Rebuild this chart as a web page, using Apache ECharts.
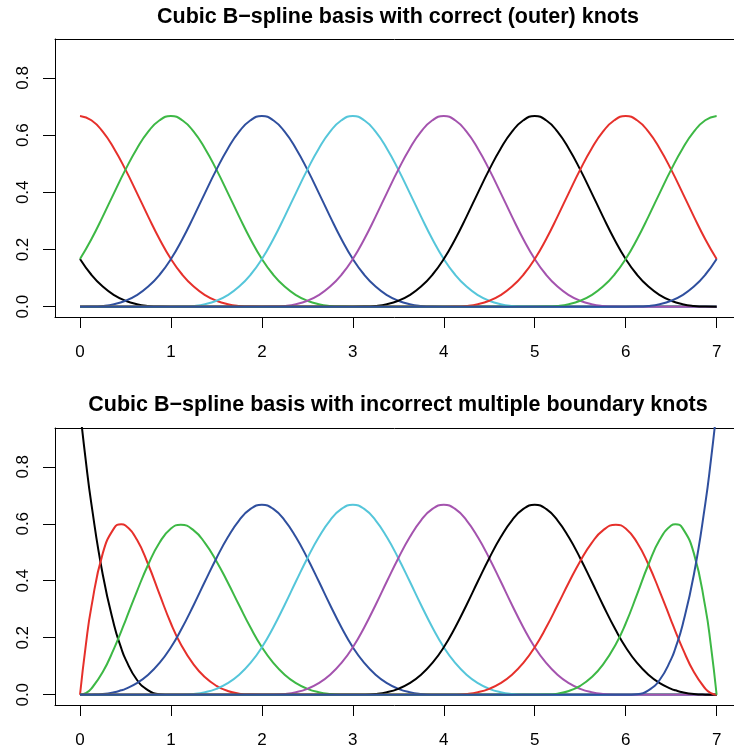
<!DOCTYPE html>
<html>
<head>
<meta charset="utf-8">
<script src="https://cdn.jsdelivr.net/npm/echarts@6/dist/echarts.min.js"></script>
<style>
html,body{margin:0;padding:0;background:#fff;}
#chart{width:734px;height:749px;}
</style>
</head>
<body>
<div id="chart"></div>
<script>
// ---------- data ----------
const titleTop = "Cubic B\u2212spline basis with correct (outer) knots";
const titleBottom = "Cubic B\u2212spline basis with incorrect multiple boundary knots";

const xTicks = [0, 1, 2, 3, 4, 5, 6, 7];
const yTicks = [0, 0.2, 0.4, 0.6, 0.8];

const palette = ["#000000", "#E6302B", "#3DB845", "#2F4F9E", "#55C6DA", "#A453AE"];

// top panel: x sample positions (step 0.125)
const xsTop = [0,0.125,0.25,0.375,0.5,0.625,0.75,0.875,
  1,1.125,1.25,1.375,1.5,1.625,1.75,1.875,
  2,2.125,2.25,2.375,2.5,2.625,2.75,2.875,
  3,3.125,3.25,3.375,3.5,3.625,3.75,3.875,
  4,4.125,4.25,4.375,4.5,4.625,4.75,4.875,
  5,5.125,5.25,5.375,5.5,5.625,5.75,5.875,
  6,6.125,6.25,6.375,6.5,6.625,6.75,6.875,
  7];

const topB1 = [0.1667,0.1117,0.0703,0.0407,0.0208,0.0088,0.0026,0.0003,
  0,
  0,0,0,0,0,0,0,0, 0,0,0,0,0,0,0,0, 0,0,0,0,0,0,0,0,
  0,0,0,0,0,0,0,0, 0,0,0,0,0,0,0,0, 0,0,0,0,0,0,0,0];
const topB2 = [0.6667,0.6520,0.6120,0.5524,0.4792,0.3981,0.3151,0.2360,
  0.1667,0.1117,0.0703,0.0407,0.0208,0.0088,0.0026,0.0003,
  0,
  0,0,0,0,0,0,0,0, 0,0,0,0,0,0,0,0, 0,0,0,0,0,0,0,0,
  0,0,0,0,0,0,0,0, 0,0,0,0,0,0,0,0];
const topB3 = [0.1667,0.2360,0.3151,0.3981,0.4792,0.5524,0.6120,0.6520,
  0.6667,0.6520,0.6120,0.5524,0.4792,0.3981,0.3151,0.2360,
  0.1667,0.1117,0.0703,0.0407,0.0208,0.0088,0.0026,0.0003,
  0,
  0,0,0,0,0,0,0,0, 0,0,0,0,0,0,0,0, 0,0,0,0,0,0,0,0, 0,0,0,0,0,0,0,0];
const topB4 = [0,0.0003,0.0026,0.0088,0.0208,0.0407,0.0703,0.1117,
  0.1667,0.2360,0.3151,0.3981,0.4792,0.5524,0.6120,0.6520,
  0.6667,0.6520,0.6120,0.5524,0.4792,0.3981,0.3151,0.2360,
  0.1667,0.1117,0.0703,0.0407,0.0208,0.0088,0.0026,0.0003,
  0,
  0,0,0,0,0,0,0,0, 0,0,0,0,0,0,0,0, 0,0,0,0,0,0,0,0];
const topB5 = [0,0,0,0,0,0,0,0,
  0,0.0003,0.0026,0.0088,0.0208,0.0407,0.0703,0.1117,
  0.1667,0.2360,0.3151,0.3981,0.4792,0.5524,0.6120,0.6520,
  0.6667,0.6520,0.6120,0.5524,0.4792,0.3981,0.3151,0.2360,
  0.1667,0.1117,0.0703,0.0407,0.0208,0.0088,0.0026,0.0003,
  0,
  0,0,0,0,0,0,0,0, 0,0,0,0,0,0,0,0];
const topB6 = [0,0,0,0,0,0,0,0, 0,0,0,0,0,0,0,0,
  0,0.0003,0.0026,0.0088,0.0208,0.0407,0.0703,0.1117,
  0.1667,0.2360,0.3151,0.3981,0.4792,0.5524,0.6120,0.6520,
  0.6667,0.6520,0.6120,0.5524,0.4792,0.3981,0.3151,0.2360,
  0.1667,0.1117,0.0703,0.0407,0.0208,0.0088,0.0026,0.0003,
  0,
  0,0,0,0,0,0,0,0];
const topB7 = [0,0,0,0,0,0,0,0, 0,0,0,0,0,0,0,0, 0,0,0,0,0,0,0,0,
  0,0.0003,0.0026,0.0088,0.0208,0.0407,0.0703,0.1117,
  0.1667,0.2360,0.3151,0.3981,0.4792,0.5524,0.6120,0.6520,
  0.6667,0.6520,0.6120,0.5524,0.4792,0.3981,0.3151,0.2360,
  0.1667,0.1117,0.0703,0.0407,0.0208,0.0088,0.0026,0.0003,
  0];
const topB8 = [0,0,0,0,0,0,0,0, 0,0,0,0,0,0,0,0, 0,0,0,0,0,0,0,0, 0,0,0,0,0,0,0,0,
  0,0.0003,0.0026,0.0088,0.0208,0.0407,0.0703,0.1117,
  0.1667,0.2360,0.3151,0.3981,0.4792,0.5524,0.6120,0.6520,
  0.6667,0.6520,0.6120,0.5524,0.4792,0.3981,0.3151,0.2360,
  0.1667];
const topB9 = [0,0,0,0,0,0,0,0, 0,0,0,0,0,0,0,0, 0,0,0,0,0,0,0,0, 0,0,0,0,0,0,0,0, 0,0,0,0,0,0,0,0,
  0,0.0003,0.0026,0.0088,0.0208,0.0407,0.0703,0.1117,
  0.1667,0.2360,0.3151,0.3981,0.4792,0.5524,0.6120,0.6520,
  0.6667];
const topB10 = [0,0,0,0,0,0,0,0, 0,0,0,0,0,0,0,0, 0,0,0,0,0,0,0,0, 0,0,0,0,0,0,0,0, 0,0,0,0,0,0,0,0, 0,0,0,0,0,0,0,0,
  0,0.0003,0.0026,0.0088,0.0208,0.0407,0.0703,0.1117,
  0.1667];

// bottom panel: x sample positions (denser near the boundaries and the peaks)
const xsBot = [0,0.0625,0.125,0.25,0.375,0.4531,0.5,0.625,0.75,0.875,1,
  1.1082,1.25,1.375,1.5,1.625,1.75,1.875,
  2,2.125,2.25,2.375,2.5,2.625,2.75,2.875,
  3,3.125,3.25,3.375,3.5,3.625,3.75,3.875,
  4,4.125,4.25,4.375,4.5,4.625,4.75,4.875,
  5,5.125,5.25,5.375,5.5,5.625,5.75,5.8918,
  6,6.125,6.25,6.375,6.5,6.5469,6.625,6.75,6.875,6.9375,7];

const botB1 = [1,0.8240,0.6699,0.4219,0.2441,0.1636,0.1250,0.0527,0.0156,0.0020,0,
  0,0,0,0,0,0,0,
  0,0,0,0,0,0,0,0,
  0,0,0,0,0,0,0,0,
  0,0,0,0,0,0,0,0,
  0,0,0,0,0,0,0,0,
  0,0,0,0,0,0,0,0,0,0,0];
const botB2 = [0,0.1703,0.3081,0.4961,0.5847,0.5982,0.5938,0.5444,0.4570,0.3520,0.2500,
  0.1773,0.1055,0.0610,0.0313,0.0132,0.0039,0.0005,
  0,0,0,0,0,0,0,0,
  0,0,0,0,0,0,0,0,
  0,0,0,0,0,0,0,0,
  0,0,0,0,0,0,0,0,
  0,0,0,0,0,0,0,0,0,0,0];
const botB3 = [0,0.0056,0.0216,0.0794,0.1626,0.2227,0.2604,0.3621,0.4570,0.5343,0.5833,
  0.5965,0.5768,0.5321,0.4688,0.3937,0.3138,0.2358,
  0.1667,0.1117,0.0703,0.0407,0.0208,0.0088,0.0026,0.0003,
  0,0,0,0,0,0,0,0,
  0,0,0,0,0,0,0,0,
  0,0,0,0,0,0,0,0,
  0,0,0,0,0,0,0,0,0,0,0];
const botB4 = [0,0,0.0003,0.0026,0.0088,0.0155,0.0208,0.0407,0.0703,0.1117,0.1667,
  0.2260,0.3151,0.3981,0.4792,0.5524,0.6120,0.6520,
  0.6667,0.6520,0.6120,0.5524,0.4792,0.3981,0.3151,0.2360,
  0.1667,0.1117,0.0703,0.0407,0.0208,0.0088,0.0026,0.0003,
  0,0,0,0,0,0,0,0,
  0,0,0,0,0,0,0,0,
  0,0,0,0,0,0,0,0,0,0,0];
const botB5 = [0,0,0,0,0,0,0,0,0,0,0,
  0.0002,0.0026,0.0088,0.0208,0.0407,0.0703,0.1117,
  0.1667,0.2360,0.3151,0.3981,0.4792,0.5524,0.6120,0.6520,
  0.6667,0.6520,0.6120,0.5524,0.4792,0.3981,0.3151,0.2360,
  0.1667,0.1117,0.0703,0.0407,0.0208,0.0088,0.0026,0.0003,
  0,0,0,0,0,0,0,0,
  0,0,0,0,0,0,0,0,0,0,0];
const botB6 = [0,0,0,0,0,0,0,0,0,0,0,
  0,0,0,0,0,0,0,
  0,0.0003,0.0026,0.0088,0.0208,0.0407,0.0703,0.1117,
  0.1667,0.2360,0.3151,0.3981,0.4792,0.5524,0.6120,0.6520,
  0.6667,0.6520,0.6120,0.5524,0.4792,0.3981,0.3151,0.2360,
  0.1667,0.1117,0.0703,0.0407,0.0208,0.0088,0.0026,0.0002,
  0,0,0,0,0,0,0,0,0,0,0];
const botB7 = [0,0,0,0,0,0,0,0,0,0,0,
  0,0,0,0,0,0,0,
  0,0,0,0,0,0,0,0,
  0,0.0003,0.0026,0.0088,0.0208,0.0407,0.0703,0.1117,
  0.1667,0.2360,0.3151,0.3981,0.4792,0.5524,0.6120,0.6520,
  0.6667,0.6520,0.6120,0.5524,0.4792,0.3981,0.3151,0.2260,
  0.1667,0.1117,0.0703,0.0407,0.0208,0.0155,0.0088,0.0026,0.0003,0,0];
const botB8 = [0,0,0,0,0,0,0,0,0,0,0,
  0,0,0,0,0,0,0,
  0,0,0,0,0,0,0,0,
  0,0,0,0,0,0,0,0,
  0,0.0003,0.0026,0.0088,0.0208,0.0407,0.0703,0.1117,
  0.1667,0.2358,0.3138,0.3937,0.4688,0.5321,0.5768,0.5965,
  0.5833,0.5343,0.4570,0.3621,0.2604,0.2227,0.1626,0.0794,0.0216,0.0056,0];
const botB9 = [0,0,0,0,0,0,0,0,0,0,0,
  0,0,0,0,0,0,0,
  0,0,0,0,0,0,0,0,
  0,0,0,0,0,0,0,0,
  0,0,0,0,0,0,0,0,
  0,0.0005,0.0039,0.0132,0.0313,0.0610,0.1055,0.1773,
  0.2500,0.3520,0.4570,0.5444,0.5938,0.5982,0.5847,0.4961,0.3081,0.1703,0];
const botB10 = [0,0,0,0,0,0,0,0,0,0,0,
  0,0,0,0,0,0,0,
  0,0,0,0,0,0,0,0,
  0,0,0,0,0,0,0,0,
  0,0,0,0,0,0,0,0,
  0,0,0,0,0,0,0,0,
  0,0.0020,0.0156,0.0527,0.1250,0.1636,0.2441,0.4219,0.6699,0.8240,1];

const topSeries = [topB1, topB2, topB3, topB4, topB5, topB6, topB7, topB8, topB9, topB10];
const botSeries = [botB1, botB2, botB3, botB4, botB5, botB6, botB7, botB8, botB9, botB10];

topSeries.forEach((s, i) => { if (s.length !== xsTop.length) throw new Error("top series " + i + " length " + s.length); });
botSeries.forEach((s, i) => { if (s.length !== xsBot.length) throw new Error("bottom series " + i + " length " + s.length); });

// ---------- chart ----------
const FONT = "'Liberation Sans', Arial, Helvetica, sans-serif";
const X_MIN = -0.275, X_MAX = 7.191;
const Y_MIN = -0.036, Y_MAX = 0.936;
const chart = echarts.init(document.getElementById('chart'), null, {renderer: 'canvas'});

function xAxisCfg(gi) {
  return {
    type: 'value', gridIndex: gi, min: X_MIN, max: X_MAX, position: 'bottom',
    axisLine: {show: true, onZero: false, lineStyle: {color: '#000', width: 1}},
    axisTick: {show: true, length: 11, lineStyle: {color: '#000', width: 1}, customValues: xTicks},
    axisLabel: {show: true, customValues: xTicks, fontSize: 17, fontFamily: FONT, color: '#000', margin: 27,
      formatter: v => String(v)},
    splitLine: {show: false}
  };
}
function xTopCfg(gi) {
  return {
    type: 'value', gridIndex: gi, min: X_MIN, max: X_MAX, position: 'top',
    axisLine: {show: true, onZero: false, lineStyle: {color: '#000', width: 1}},
    axisTick: {show: false}, axisLabel: {show: false}, splitLine: {show: false}
  };
}
function yAxisCfg(gi) {
  return {
    type: 'value', gridIndex: gi, min: Y_MIN, max: Y_MAX,
    axisLine: {show: true, onZero: false, lineStyle: {color: '#000', width: 1}},
    axisTick: {show: true, length: 12, lineStyle: {color: '#000', width: 1}, customValues: yTicks},
    axisLabel: {show: true, customValues: yTicks, rotate: 90, fontSize: 17, fontFamily: FONT, color: '#000', margin: 23,
      formatter: v => v.toFixed(1)},
    splitLine: {show: false}
  };
}

const series = [];
topSeries.forEach((vals, i) => {
  series.push({
    type: 'line', xAxisIndex: 0, yAxisIndex: 0, smooth: true, showSymbol: false, silent: true,
    lineStyle: {color: palette[i % 6], width: 2}, itemStyle: {color: palette[i % 6]},
    data: xsTop.map((x, k) => [x, vals[k]])
  });
});
botSeries.forEach((vals, i) => {
  series.push({
    type: 'line', xAxisIndex: 1, yAxisIndex: 1, smooth: true, showSymbol: false, silent: true,
    lineStyle: {color: palette[i % 6], width: 2}, itemStyle: {color: palette[i % 6]},
    data: xsBot.map((x, k) => [x, vals[k]])
  });
});

chart.setOption({
  animation: false,
  backgroundColor: '#fff',
  title: [
    {text: titleTop, left: 398, top: 6, textAlign: 'center', padding: 0,
      textStyle: {fontFamily: FONT, fontWeight: 'bold', fontSize: 21.5, color: '#000'}},
    {text: titleBottom, left: 398, top: 394, textAlign: 'center', padding: 0,
      textStyle: {fontFamily: FONT, fontWeight: 'bold', fontSize: 21.5, color: '#000'}}
  ],
  grid: [
    {left: 55, top: 39, width: 679, height: 278, show: false, containLabel: false},
    {left: 55, top: 428, width: 679, height: 277, show: false, containLabel: false}
  ],
  xAxis: [xAxisCfg(0), xAxisCfg(1), xTopCfg(0), xTopCfg(1)],
  yAxis: [yAxisCfg(0), yAxisCfg(1)],
  series: series
});
</script>
</body>
</html>
